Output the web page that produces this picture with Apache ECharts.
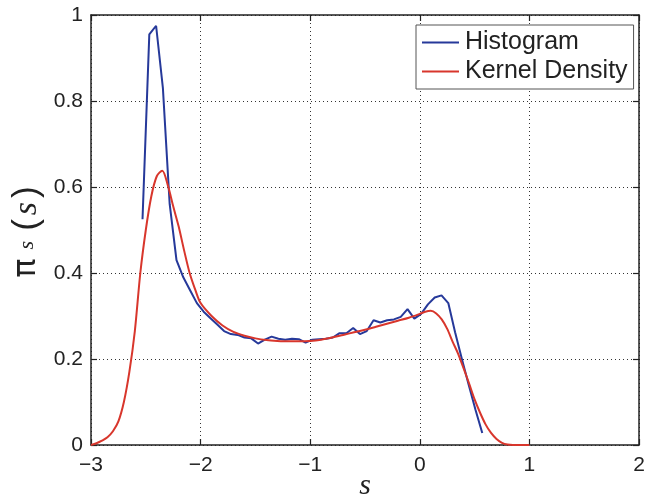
<!DOCTYPE html>
<html>
<head>
<meta charset="utf-8">
<script src="https://cdn.jsdelivr.net/npm/echarts@6/dist/echarts.min.js"></script>
<style>
  html, body { margin: 0; padding: 0; background: #fff; }
  #chart { width: 646px; height: 498px; }
</style>
</head>
<body>
<div id="chart"></div>
<script>
// Histogram estimate of the stationary density (bin centres, heights)
const histS = [
  -2.530, -2.468, -2.406, -2.344, -2.282, -2.220, -2.158, -2.096, -2.034, -1.972,
  -1.910, -1.848, -1.786, -1.724, -1.662, -1.600, -1.538, -1.476, -1.414, -1.352,
  -1.290, -1.228, -1.166, -1.104, -1.042, -0.980, -0.918, -0.856, -0.794, -0.732,
  -0.670, -0.608, -0.546, -0.484, -0.422, -0.360, -0.298, -0.236, -0.174, -0.112,
  -0.050, 0.012, 0.074, 0.136, 0.198, 0.260, 0.322, 0.384, 0.446, 0.508, 0.570
];
const histDensity = [
  0.525, 0.955, 0.975, 0.830, 0.560, 0.430, 0.390, 0.360, 0.330, 0.310,
  0.295, 0.280, 0.265, 0.258, 0.256, 0.250, 0.248, 0.236, 0.245, 0.252,
  0.247, 0.245, 0.247, 0.246, 0.238, 0.245, 0.246, 0.247, 0.250, 0.260,
  0.260, 0.272, 0.258, 0.265, 0.290, 0.285, 0.290, 0.292, 0.298, 0.316,
  0.294, 0.305, 0.327, 0.343, 0.348, 0.330, 0.262, 0.200, 0.140, 0.082, 0.028
];

// Kernel density estimate
const kdeS = [
  -3.00, -2.95, -2.90, -2.85, -2.80, -2.75, -2.70, -2.65, -2.60, -2.55,
  -2.50, -2.45, -2.40, -2.35, -2.30, -2.25, -2.20, -2.15, -2.10, -2.05,
  -2.00, -1.90, -1.80, -1.70, -1.60, -1.50, -1.40, -1.30, -1.20, -1.10,
  -1.00, -0.90, -0.80, -0.70, -0.60, -0.50, -0.40, -0.30, -0.20, -0.10,
  0.00, 0.05, 0.10, 0.15, 0.20, 0.25, 0.30, 0.35, 0.40, 0.45,
  0.50, 0.55, 0.60, 0.65, 0.70, 0.75, 0.80, 0.85, 0.90, 1.00
];
const kdeDensity = [
  0.000, 0.004, 0.010, 0.018, 0.032, 0.055, 0.100, 0.170, 0.265, 0.400,
  0.500, 0.578, 0.625, 0.638, 0.605, 0.555, 0.508, 0.452, 0.400, 0.362,
  0.330, 0.300, 0.278, 0.263, 0.254, 0.248, 0.244, 0.242, 0.241, 0.241,
  0.242, 0.245, 0.250, 0.256, 0.262, 0.268, 0.275, 0.282, 0.289, 0.296,
  0.305, 0.310, 0.312, 0.306, 0.292, 0.270, 0.240, 0.212, 0.178, 0.143,
  0.106, 0.075, 0.048, 0.028, 0.014, 0.005, 0.001, 0.000, 0.000, 0.000
];

const xTicks = { min: -3, max: 2, step: 1 };
const yTicks = { min: 0, max: 1, step: 0.2 };

const seriesNames = ['Histogram', 'Kernel Density'];
const seriesColors = ['#26399a', '#d8362c'];

const ink = '#222';
const tickFont = { fontFamily: 'Liberation Sans', fontSize: 21, color: ink };
const minus = v => String(+v.toFixed(6)).replace('-', '\u2212');
const dotted = { show: true, lineStyle: { color: '#333', width: 1, type: [1, 3] } };

const chart = echarts.init(document.getElementById('chart'), null, { renderer: 'canvas' });

function valueAxis(range, extra) {
  return Object.assign({
    type: 'value',
    min: range.min,
    max: range.max,
    interval: range.step,
    axisLine: { show: true, onZero: false, lineStyle: { color: ink, width: 1.5 } },
    axisTick: { show: true, inside: true, length: 6, lineStyle: { color: ink, width: 1.2 } },
    splitLine: { show: false }
  }, extra);
}

chart.setOption({
  animation: false,
  backgroundColor: '#fff',
  grid: { left: 91, right: 7, top: 15, bottom: 53, containLabel: false, outerBoundsMode: 'none', show: false },
  legend: {
    data: seriesNames,
    orient: 'vertical',
    left: 416,
    top: 25,
    icon: 'rect',
    itemWidth: 37,
    itemHeight: 2,
    itemGap: 4,
    padding: [5, 6, 5, 6],
    backgroundColor: '#fff',
    borderColor: '#555',
    borderWidth: 1,
    borderRadius: 0,
    textStyle: { fontFamily: 'Liberation Sans', fontSize: 25, lineHeight: 24, color: ink, padding: [0, 0, 0, 1] }
  },
  xAxis: [
    valueAxis(xTicks, {
      position: 'bottom',
      axisLabel: Object.assign({ margin: 10, formatter: minus }, tickFont),
      splitLine: dotted,
      name: 's',
      nameLocation: 'middle',
      nameGap: 26,
      nameMoveOverlap: false,
      nameTextStyle: { fontFamily: 'Liberation Serif', fontStyle: 'italic', fontSize: 30, lineHeight: 30, color: ink }
    }),
    valueAxis(xTicks, { position: 'top', axisLabel: { show: false } })
  ],
  yAxis: [
    valueAxis(yTicks, {
      position: 'left',
      axisLabel: Object.assign({ margin: 8, formatter: minus }, tickFont),
      splitLine: dotted,
      name: '{p|\u03c0}{sub|s}{par|(}{s|s}{par|)}',
      nameLocation: 'middle',
      nameRotate: 90,
      nameGap: 44,
      nameMoveOverlap: false,
      nameTextStyle: {
        color: ink,
        rich: {
          p: { fontFamily: 'DejaVu Sans', fontSize: 32, lineHeight: 40, color: ink, padding: [0, 9, 0, 0] },
          sub: { fontFamily: 'Liberation Serif', fontStyle: 'italic', fontSize: 22, lineHeight: 40, color: ink, padding: [0, 6, 0, 0] },
          par: { fontFamily: 'Liberation Sans', fontSize: 35, lineHeight: 40, color: ink, padding: [0, 4, 0, 4] },
          s: { fontFamily: 'Liberation Serif', fontStyle: 'italic', fontSize: 34, lineHeight: 40, color: ink }
        }
      }
    }),
    valueAxis(yTicks, { position: 'right', axisLabel: { show: false } })
  ],
  series: [
    {
      name: seriesNames[0],
      type: 'line',
      xAxisIndex: 0,
      yAxisIndex: 0,
      symbol: 'none',
      data: histS.map((s, i) => [s, histDensity[i]]),
      lineStyle: { color: seriesColors[0], width: 2 },
      itemStyle: { color: seriesColors[0] },
      z: 3
    },
    {
      name: seriesNames[1],
      type: 'line',
      xAxisIndex: 0,
      yAxisIndex: 0,
      symbol: 'none',
      smooth: 0.3,
      data: kdeS.map((s, i) => [s, kdeDensity[i]]),
      lineStyle: { color: seriesColors[1], width: 2 },
      itemStyle: { color: seriesColors[1] },
      z: 4
    }
  ]
});
</script>
</body>
</html>
